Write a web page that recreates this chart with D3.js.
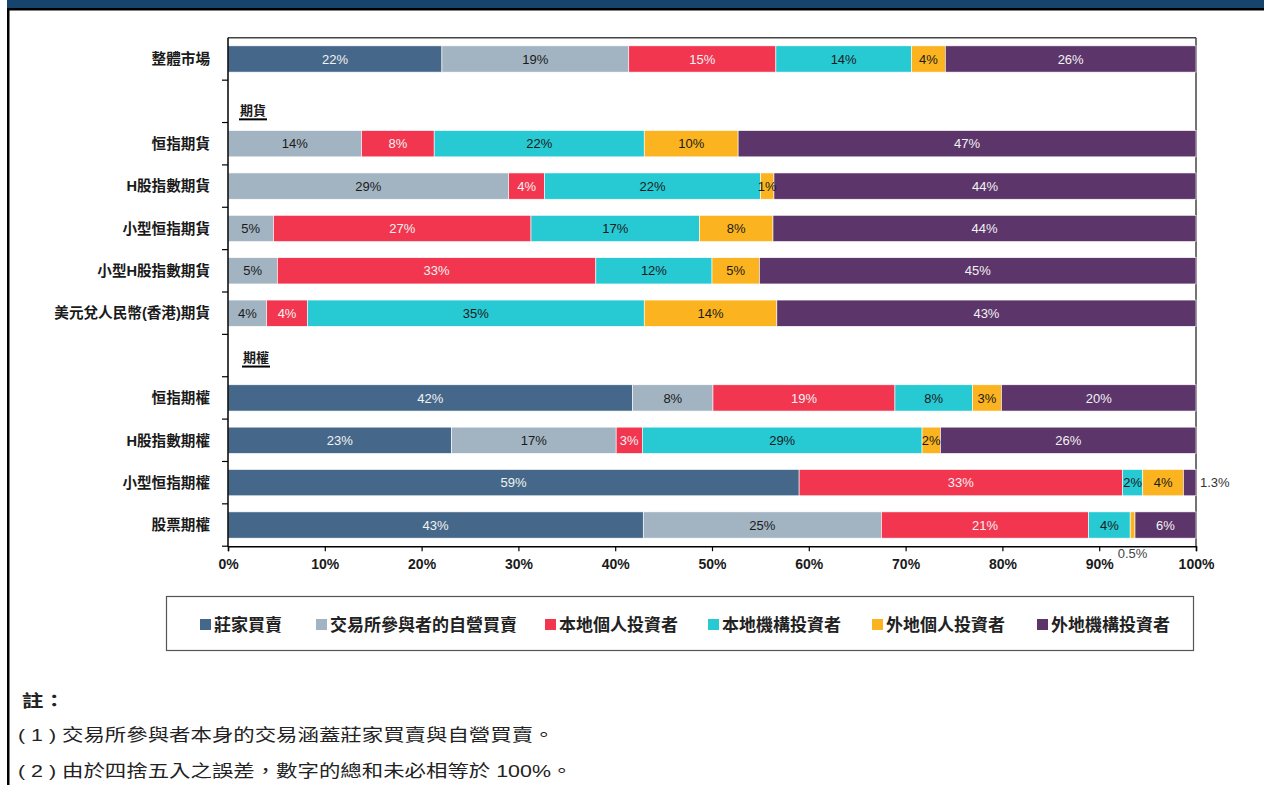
<!DOCTYPE html>
<html>
<head>
<meta charset="utf-8">
<script src="https://cdn.jsdelivr.net/npm/d3@7"></script>
<style>
  body { margin: 0; background: #fff; }
  svg text { font-family: "Liberation Sans", Arial, "Noto Sans CJK TC", sans-serif; }
</style>
</head>
<body>
<svg id="chart" width="1264" height="785"></svg>
<script>
// rows of the chart, blanks hold the group headings
var rows = ["整體市場", "期貨", "恒指期貨", "H股指數期貨", "小型恒指期貨", "小型H股指數期貨",
            "美元兌人民幣(香港)期貨", "期權", "恒指期權", "H股指數期權", "小型恒指期權", "股票期權"];
var categories = ["整體市場", "恒指期貨", "H股指數期貨", "小型恒指期貨", "小型H股指數期貨",
                  "美元兌人民幣(香港)期貨", "恒指期權", "H股指數期權", "小型恒指期權", "股票期權"];
var groupLabels = ["期貨", "期權"];

var seriesNames = ["莊家買賣", "交易所參與者的自營買賣", "本地個人投資者", "本地機構投資者", "外地個人投資者", "外地機構投資者"];
var seriesColors = ["#45688a", "#a2b3c2", "#f3364f", "#27c9d3", "#fbb41f", "#5c356b"];
var labelColors = ["#f2f2f2", "#1a1a1a", "#f2f2f2", "#1a1a1a", "#1a1a1a", "#f2f2f2"];

// values (%) per category, same order as categories
var marketMaker    = [22.1, 0,    0,    0,    0,    0,    41.8, 23.1, 59.0, 42.9];
var proprietary    = [19.3, 13.8, 29.0, 4.7,  5.1,  4.0,  8.3,  17.0, 0,    24.6];
var localRetail    = [15.2, 7.5,  3.7,  26.6, 32.9, 4.2,  18.8, 2.7,  33.4, 21.4];
var localInst      = [14.0, 21.7, 22.3, 17.4, 12.0, 34.8, 8.0,  28.9, 2.1,  4.3];
var overseasRetail = [3.5,  9.7,  1.4,  7.6,  4.9,  13.7, 3.0,  1.9,  4.2,  0.5];
var overseasInst   = [25.9, 47.3, 43.6, 43.7, 45.1, 43.3, 20.1, 26.4, 1.3,  6.3];

var xTicks = [0, 10, 20, 30, 40, 50, 60, 70, 80, 90, 100];

// small segments labelled outside the bar
var outsideNotes = [
  { cat: "小型恒指期權", series: 5, pos: "right" },
  { cat: "股票期權", series: 4, pos: "below" }
];

var notes = ["( 1 ) 交易所參與者本身的交易涵蓋莊家買賣與自營買賣。",
             "( 2 ) 由於四捨五入之誤差，數字的總和未必相等於 100%。"];

var allSeries = [marketMaker, proprietary, localRetail, localInst, overseasRetail, overseasInst];

var svg = d3.select("#chart");

// frame of the page
svg.append("rect").attr("x", 7).attr("y", 0).attr("width", 1257).attr("height", 8).attr("fill", "#17446c");
svg.append("rect").attr("x", 7).attr("y", 8).attr("width", 1257).attr("height", 2.5).attr("fill", "#000");
svg.append("rect").attr("x", 7).attr("y", 8).attr("width", 2.5).attr("height", 777).attr("fill", "#000");

var plotLeft = 228, plotRight = 1196, plotTop = 37.8, plotBottom = 546.2;

var x = d3.scaleLinear().domain([0, 100]).range([plotLeft, plotRight]);
var y = d3.scaleBand().domain(rows).range([plotTop, plotBottom]).paddingInner(0.38).paddingOuter(0.19);
var step = y.step();

// stack
var table = categories.map(function(c, i) {
  var o = { cat: c };
  allSeries.forEach(function(s, k) { o["s" + k] = s[i]; });
  return o;
});
var stack = d3.stack().keys(seriesNames.map(function(d, k) { return "s" + k; }));
var layers = stack(table);

// plot frame
svg.append("line").attr("x1", plotLeft).attr("x2", plotRight).attr("y1", plotTop).attr("y2", plotTop)
  .attr("stroke", "#444").attr("stroke-width", 1.5);
svg.append("line").attr("x1", plotRight).attr("x2", plotRight).attr("y1", plotTop).attr("y2", plotBottom)
  .attr("stroke", "#444").attr("stroke-width", 1.5);

var g_bars = svg.append("g");
layers.forEach(function(layer, k) {
  g_bars.append("g").selectAll("rect")
    .data(layer.filter(function(d) { return d[1] - d[0] > 0; }))
    .enter().append("rect")
    .attr("x", function(d) { return x(d[0]); })
    .attr("y", function(d) { return y(d.data.cat); })
    .attr("width", function(d) { return x(d[1]) - x(d[0]); })
    .attr("height", y.bandwidth())
    .attr("fill", seriesColors[k])
    .attr("stroke", "#fff")
    .attr("stroke-width", 0.6);
});

// labels inside segments
var isOutside = function(cat, k) {
  return outsideNotes.some(function(n) { return n.cat == cat && n.series == k; });
};
var g_labels = svg.append("g");
layers.forEach(function(layer, k) {
  g_labels.append("g").selectAll("text")
    .data(layer.filter(function(d) { return d[1] - d[0] > 0 && !isOutside(d.data.cat, k); }))
    .enter().append("text")
    .attr("x", function(d) { return (x(d[0]) + x(d[1])) / 2; })
    .attr("y", function(d) { return y(d.data.cat) + y.bandwidth() / 2; })
    .attr("dy", "0.36em")
    .attr("text-anchor", "middle")
    .attr("font-size", 13)
    .attr("fill", labelColors[k])
    .text(function(d) { return Math.round(d[1] - d[0]) + "%"; });
});

outsideNotes.forEach(function(n) {
  var i = categories.indexOf(n.cat);
  var d = layers[n.series][i];
  var t = g_labels.append("text").attr("font-size", 13).attr("fill", "#333")
    .text(d3.format(".1f")(d[1] - d[0]) + "%");
  if (n.pos == "right") {
    t.attr("x", x(100) + 4).attr("y", y(n.cat) + y.bandwidth() / 2).attr("dy", "0.36em");
  } else {
    t.attr("x", (x(d[0]) + x(d[1])) / 2).attr("y", y(n.cat) + y.bandwidth() + 15).attr("dy", "0.36em")
      .attr("text-anchor", "middle").attr("fill", "#444");
  }
});

// y axis: line + ticks at row boundaries
var g_axis = svg.append("g");
g_axis.append("line").attr("x1", plotLeft).attr("x2", plotLeft).attr("y1", plotTop).attr("y2", plotBottom)
  .attr("stroke", "#000").attr("stroke-width", 1.5);
rows.forEach(function(r, i) {
  if (i == 0) return;
  var yy = y(r) - step * 0.19;
  g_axis.append("line").attr("x1", plotLeft - 6).attr("x2", plotLeft).attr("y1", yy).attr("y2", yy)
    .attr("stroke", "#000").attr("stroke-width", 1.2);
});
g_axis.append("line").attr("x1", plotLeft - 6).attr("x2", plotLeft).attr("y1", plotBottom).attr("y2", plotBottom)
  .attr("stroke", "#000").attr("stroke-width", 1.2);

g_axis.selectAll("text.cat").data(categories).enter().append("text")
  .attr("class", "cat")
  .attr("x", 210)
  .attr("y", function(d) { return y(d) + y.bandwidth() / 2; })
  .attr("dy", "0.36em")
  .attr("text-anchor", "end")
  .attr("font-size", 14.6)
  .attr("font-weight", "bold")
  .attr("fill", "#1a1a1a")
  .text(function(d) { return d; });

// group headings
var headX = [240, 243], headDy = [9, 2];
groupLabels.forEach(function(gl, i) {
  var cy = y(gl) + y.bandwidth() / 2 + headDy[i];
  var t = svg.append("text").attr("x", headX[i]).attr("y", cy).attr("dy", "0.36em")
    .attr("font-size", 13).attr("font-weight", "bold").attr("fill", "#1a1a1a").text(gl);
  var w = t.node().getComputedTextLength();
  svg.append("line").attr("x1", headX[i] - 1).attr("x2", headX[i] + w + 1)
    .attr("y1", cy + 9).attr("y2", cy + 9).attr("stroke", "#000").attr("stroke-width", 2);
});

// x axis
var xAxis = d3.axisBottom(x).tickValues(xTicks).tickSize(5).tickFormat(function(d) { return d + "%"; });
var gx = svg.append("g").attr("transform", "translate(0," + plotBottom + ")").call(xAxis);
gx.select(".domain").attr("stroke", "#000").attr("stroke-width", 1.5);
gx.selectAll(".tick line").attr("stroke", "#000").attr("stroke-width", 1.2);
gx.selectAll(".tick text").attr("font-size", 14).attr("font-weight", "bold")
  .attr("fill", "#1a1a1a").attr("y", 13).attr("font-family", "Liberation Sans, Arial, sans-serif");

// legend
svg.append("rect").attr("x", 166.5).attr("y", 596.5).attr("width", 1027).attr("height", 54)
  .attr("fill", "none").attr("stroke", "#555").attr("stroke-width", 1.2);
var legendX = [200, 316, 545, 708, 872, 1037];
var g_leg = svg.append("g");
seriesNames.forEach(function(s, k) {
  g_leg.append("rect").attr("x", legendX[k]).attr("y", 619).attr("width", 11).attr("height", 11)
    .attr("fill", seriesColors[k]);
  g_leg.append("text").attr("x", legendX[k] + 14).attr("y", 625).attr("dy", "0.36em")
    .attr("font-size", 17).attr("font-weight", "bold").attr("fill", "#222").text(s);
});

// notes (the source text is horizontally stretched)
svg.append("text").attr("transform", "translate(22,701) scale(1.26,1)").attr("dy", "0.36em")
  .attr("font-size", 17).attr("font-weight", "bold").attr("fill", "#222").text("註：");
notes.forEach(function(n, i) {
  svg.append("text").attr("transform", "translate(18," + (735 + i * 36) + ") scale(1.26,1)")
    .attr("dy", "0.36em").attr("font-size", 17).attr("fill", "#222").text(n);
});
</script>
</body>
</html>
